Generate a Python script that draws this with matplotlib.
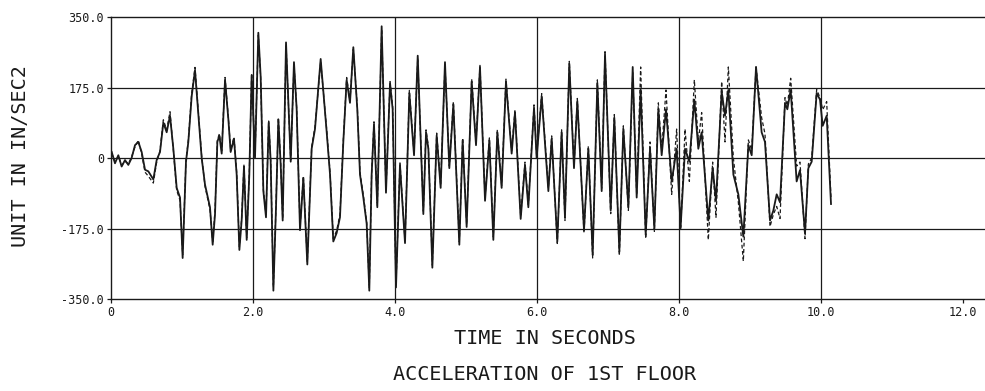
import matplotlib
matplotlib.use("Agg")
import matplotlib.pyplot as plt

# ---------------------------------------------------------------
# Data (peaks / troughs of the trace)
# ---------------------------------------------------------------
time_s = [
    0.01, 0.056, 0.103, 0.15, 0.197, 0.244, 0.29, 0.338, 0.385, 0.432,
    0.479, 0.526, 0.596, 0.643, 0.69, 0.737, 0.784, 0.831, 0.878, 0.925,
    0.972, 1.009, 1.056, 1.089, 1.136, 1.183, 1.277, 1.324, 1.394, 1.432,
    1.465, 1.498, 1.526, 1.559, 1.606, 1.653, 1.685, 1.732, 1.77, 1.808,
    1.84, 1.873, 1.911, 1.948, 1.981, 2.028, 2.075, 2.108, 2.146, 2.183,
    2.221, 2.249, 2.287, 2.324, 2.357, 2.39, 2.418, 2.465, 2.531, 2.577,
    2.615, 2.662, 2.709, 2.765, 2.826, 2.873, 2.953, 3.038, 3.085, 3.131,
    3.178, 3.225, 3.272, 3.319, 3.366, 3.413, 3.469, 3.507, 3.554, 3.601,
    3.638, 3.671, 3.704, 3.751, 3.812, 3.873, 3.93, 3.967, 4.014, 4.07,
    4.141, 4.202, 4.268, 4.32, 4.399, 4.437, 4.47, 4.526, 4.587, 4.643,
    4.704, 4.765, 4.822, 4.906, 4.953, 5.009, 5.08, 5.141, 5.197, 5.268,
    5.329, 5.385, 5.441, 5.502, 5.563, 5.643, 5.69, 5.77, 5.831, 5.878,
    5.958, 5.995, 6.066, 6.16, 6.207, 6.286, 6.347, 6.394, 6.455, 6.521,
    6.568, 6.662, 6.723, 6.784, 6.85, 6.911, 6.958, 7.038, 7.089, 7.16,
    7.216, 7.287, 7.348, 7.404, 7.46, 7.531, 7.592, 7.653, 7.709, 7.756,
    7.817, 7.897, 7.967, 8.023, 8.085, 8.146, 8.216, 8.272, 8.319, 8.413,
    8.474, 8.521, 8.601, 8.648, 8.695, 8.766, 8.836, 8.906, 8.977, 9.024,
    9.085, 9.164, 9.211, 9.282, 9.329, 9.376, 9.423, 9.493, 9.526, 9.573,
    9.657, 9.704, 9.775, 9.822, 9.869, 9.939, 9.986, 10.024, 10.08, 10.141,
]

# measured response (solid)
accel_measured = [
    15, -13, 7, -21, -5, -17, 0, 32, 40, 15,
    -29, -33, -53, -5, 15, 88, 64, 105, 23, -74,
    -98, -248, -9, 40, 153, 218, 0, -66, -122, -215,
    -139, 40, 56, 11, 194, 96, 15, 48, -41, -228,
    -155, -21, -203, -41, 206, 0, 311, 202, -82, -147,
    88, -9, -329, -122, 96, -17, -155, 287, -9, 238,
    121, -179, -49, -264, 23, 72, 246, 64, -41, -207,
    -186, -147, 40, 194, 137, 275, 121, -41, -98, -163,
    -329, -41, 84, -122, 327, -86, 186, 121, -321, -17,
    -211, 161, 7, 254, -139, 64, 23, -272, 56, -74,
    238, -25, 133, -215, 44, -171, 190, 32, 226, -106,
    44, -203, 64, -74, 190, 11, 113, -151, -17, -122,
    125, 0, 153, -82, 48, -207, 64, -147, 234, -25,
    141, -179, 23, -240, 186, -82, 258, -130, 100, -232,
    72, -122, 226, -98, 170, -190, 23, -175, 121, 7,
    121, -58, 23, -171, 23, -9, 145, 23, 64, -155,
    -25, -106, 165, 105, 169, -41, -90, -195, 32, 7,
    226, 64, 40, -155, -130, -90, -110, 137, 121, 169,
    -58, -30, -187, -25, -9, 161, 145, 80, 105, -114,
]

# computed response (dashed)
accel_computed = [
    12, -10, 5, -18, -8, -14, 3, 28, 44, 10,
    -35, -45, -62, -10, 18, 95, 70, 115, 20, -80,
    -105, -240, -5, 45, 160, 225, 5, -70, -128, -208,
    -130, 45, 60, 18, 200, 100, 20, 52, -35, -220,
    -150, -15, -198, -35, 210, 5, 305, 198, -78, -140,
    92, -5, -320, -118, 100, -12, -150, 282, -5, 232,
    125, -172, -45, -258, 28, 78, 240, 70, -35, -200,
    -180, -140, 45, 200, 142, 270, 128, -35, -92, -158,
    -322, -35, 90, -118, 320, -80, 190, 128, -314, -12,
    -205, 168, 12, 248, -132, 70, 28, -266, 62, -68,
    232, -20, 140, -208, 50, -165, 196, 38, 230, -100,
    50, -196, 70, -68, 196, 18, 120, -145, -10, -116,
    132, 6, 160, -75, 55, -212, 70, -155, 240, -20,
    148, -186, 30, -248, 194, -75, 264, -138, 108, -242,
    80, -130, 212, -92, 226, -200, 40, -182, 137, 20,
    169, -90, 72, -179, 72, -58, 194, 40, 113, -203,
    -10, -147, 190, 40, 226, 0, -110, -256, 45, 20,
    226, 100, 60, -170, -140, -120, -150, 150, 130, 198,
    -20, -10, -200, -15, 0, 170, 150, 120, 140, -100,
]

x_ticks = [0, 2, 4, 6, 8, 10, 12]
x_tick_labels = ['0', '2.0', '4.0', '6.0', '8.0', '10.0', '12.0']
y_ticks = [-350, -175, 0, 175, 350]
y_tick_labels = ['-350.0', '-175.0', '0', '175.0', '350.0']

MONO = 'DejaVu Sans Mono'
INK = '#1a1a1a'

# ---------------------------------------------------------------
# Plot
# ---------------------------------------------------------------
fig = plt.figure(figsize=(9.85, 3.91), dpi=100)
ax = fig.add_axes([0.1127, 0.235, 0.8873, 0.7215])

ax.plot(time_s, accel_computed, color=INK, linewidth=0.9, linestyle=(0, (3, 2)))
ax.plot(time_s, accel_measured, color=INK, linewidth=1.3)

for xv in x_ticks[1:-1]:
    ax.axvline(xv, color=INK, linewidth=0.9)
for yv in y_ticks[1:-1]:
    ax.axhline(yv, color=INK, linewidth=0.9)

ax.set_xlim(0, 12.31)
ax.set_ylim(-350, 350)
ax.set_xticks(x_ticks)
ax.set_xticklabels(x_tick_labels, family=MONO, fontsize=8.5)
ax.set_yticks(y_ticks)
ax.set_yticklabels(y_tick_labels, family=MONO, fontsize=8.5)
ax.tick_params(direction='out', length=3, width=0.9, pad=2, colors=INK)

for side in ['left', 'bottom', 'top']:
    ax.spines[side].set_linewidth(1.0)
    ax.spines[side].set_color(INK)
ax.spines['right'].set_visible(False)

fig.text(0.021, 0.60, 'UNIT IN IN/SEC2', rotation=90, ha='center', va='center',
         family=MONO, fontsize=14.5, color=INK)
fig.text(0.553, 0.135, 'TIME IN SECONDS', ha='center', va='center',
         family=MONO, fontsize=14.5, color=INK)
fig.text(0.553, 0.043, 'ACCELERATION OF 1ST FLOOR', ha='center', va='center',
         family=MONO, fontsize=14.5, color=INK)

fig.savefig('out.png', dpi=100, facecolor='white')
